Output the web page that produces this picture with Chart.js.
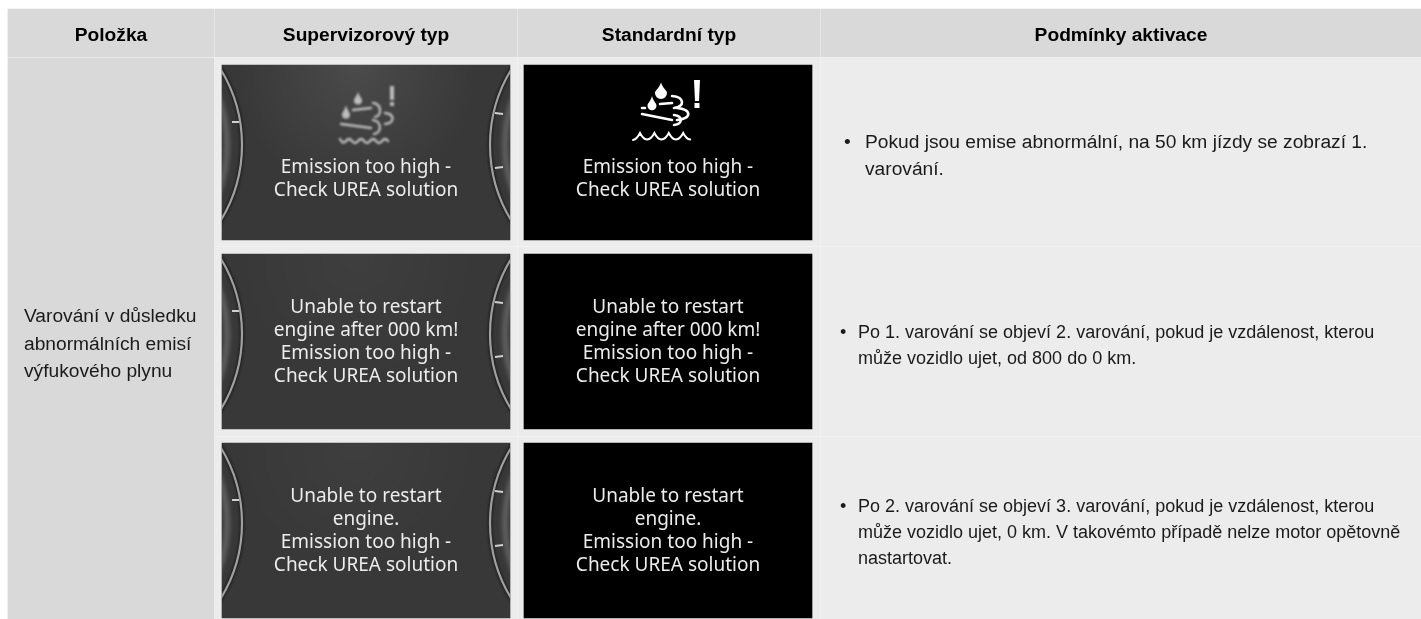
<!DOCTYPE html>
<html>
<head>
<meta charset="utf-8">
<title>Varování emisí</title>
<script src="https://cdn.jsdelivr.net/npm/chart.js@4"></script>
<style>
    html, body { margin: 0; padding: 0; background: #fff; }
    #wrap { position: relative; width: 1421px; height: 619px; overflow: hidden; }
    canvas { display: block; }
</style>
</head>
<body>
<div id="wrap"><canvas id="table" width="1421" height="619"></canvas></div>
<script>
// Table content
const headers = ['Položka', 'Supervizorový typ', 'Standardní typ', 'Podmínky aktivace'];
const itemLines = ['Varování v důsledku', 'abnormálních emisí', 'výfukového plynu'];
const screenLines = [
    ['Emission too high -', 'Check UREA solution'],
    ['Unable to restart', 'engine after 000 km!', 'Emission too high -', 'Check UREA solution'],
    ['Unable to restart', 'engine.', 'Emission too high -', 'Check UREA solution']
];
const conditionLines = [
    ['Pokud jsou emise abnormální, na 50 km jízdy se zobrazí 1.', 'varování.'],
    ['Po 1. varování se objeví 2. varování, pokud je vzdálenost, kterou', 'může vozidlo ujet, od 800 do 0 km.'],
    ['Po 2. varování se objeví 3. varování, pokud je vzdálenost, kterou', 'může vozidlo ujet, 0 km. V takovémto případě nelze motor opětovně', 'nastartovat.']
];

// Cell extents, in the units of the two axes
const columnEdges = [[8, 214], [215, 517], [518, 820], [821, 1421]];
const headerEdge = [9, 57];
const rowEdges = [[58, 246], [247, 436], [437, 619]];
const screenXs = [[222, 510], [524, 812]];
const screenYs = [[65, 240], [254, 429], [443, 618]];

const middle = (pair) => (pair[0] + pair[1]) / 2;
const span = (pair) => pair[1] - pair[0];

function cellBar(label, xPair, yPair, color) {
    return {
        label: label,
        data: [{ x: xPair, y: middle(yPair) }],
        backgroundColor: color,
        barThickness: span(yPair),
        grouped: false,
        borderWidth: 0
    };
}

function buildDatasets() {
    const sets = [];
    // separators show through between the cells
    sets.push(cellBar('sheet', [8, 1421], [9, 619], '#f7f7f7'));
    columnEdges.forEach((col, i) => {
        sets.push(cellBar(headers[i], col, headerEdge, '#d9d9d9'));
    });
    sets.push(cellBar('item', columnEdges[0], [rowEdges[0][0], rowEdges[2][1]], '#d9d9d9'));
    rowEdges.forEach((row, r) => {
        for (let c = 1; c < columnEdges.length; c++) {
            sets.push(cellBar('cell' + r + c, columnEdges[c], row, '#ececec'));
        }
    });
    screenYs.forEach((row, r) => {
        sets.push(cellBar('super' + r, screenXs[0], row, '#383838'));
        sets.push(cellBar('std' + r, screenXs[1], row, '#000000'));
    });
    // first dataset is painted last, so the screens go to the front
    return sets.reverse();
}

// Instrument cluster arcs on the supervision screens
function drawGauges(ctx, left, top, right, bottom, glowAlpha) {
    ctx.save();
    ctx.beginPath();
    ctx.rect(left, top, right - left, bottom - top);
    ctx.clip();

    const glow = ctx.createRadialGradient(left + 135, top, 5, left + 135, top + 10, 120);
    glow.addColorStop(0, 'rgba(255,255,255,' + glowAlpha + ')');
    glow.addColorStop(1, 'rgba(255,255,255,0)');
    ctx.fillStyle = glow;
    ctx.fillRect(left, top, right - left, bottom - top);

    const cy = top + 80;
    const lx = left - 125;
    const rx = right + 125;
    ctx.lineCap = 'butt';

    [[lx, 0], [rx, Math.PI]].forEach(([cx, rot]) => {
        ctx.filter = 'blur(2px)';
        ctx.strokeStyle = 'rgba(190,190,190,0.30)';
        ctx.lineWidth = 6;
        ctx.beginPath();
        ctx.arc(cx, cy, 130, rot - 0.5, rot + 0.5);
        ctx.stroke();
        ctx.filter = 'blur(1px)';
        ctx.strokeStyle = 'rgba(20,20,20,0.6)';
        ctx.lineWidth = 5;
        ctx.beginPath();
        ctx.arc(cx, cy, 145, rot - 0.6, rot + 0.6);
        ctx.stroke();
        ctx.filter = 'blur(0.7px)';
        ctx.strokeStyle = '#a0a0a0';
        ctx.lineWidth = 2.2;
        ctx.beginPath();
        ctx.arc(cx, cy, 145, rot - 0.55, rot + 0.55);
        ctx.stroke();
    });

    ctx.filter = 'blur(0.6px)';
    ctx.strokeStyle = '#d0d0d0';
    ctx.lineWidth = 2;
    ctx.beginPath();
    ctx.moveTo(left + 10, top + 57);
    ctx.lineTo(left + 17, top + 57);
    ctx.moveTo(right - 15, top + 48);
    ctx.lineTo(right - 7, top + 49);
    ctx.moveTo(right - 15, top + 103);
    ctx.lineTo(right - 7, top + 102);
    ctx.stroke();
    ctx.restore();
}

function drop(ctx, x, y, w, h) {
    ctx.beginPath();
    ctx.moveTo(x, y - h / 2);
    ctx.bezierCurveTo(x + w * 0.15, y - h * 0.1, x + w / 2, y, x + w / 2, y + h * 0.2);
    ctx.arc(x, y + h * 0.2, w / 2, 0, Math.PI);
    ctx.bezierCurveTo(x - w / 2, y, x - w * 0.15, y - h * 0.1, x, y - h / 2);
    ctx.fill();
}

function curl(ctx, x0, y0, bulge, x2, y2) {
    ctx.beginPath();
    ctx.moveTo(x0, y0);
    ctx.bezierCurveTo(bulge, y0 + 1, bulge, y2 - 1, x2, y2);
    ctx.stroke();
}

function drawSoftIcon(ctx, ox, oy) {
    // ox, oy = screen left/top
    ctx.save();
    ctx.translate(ox, oy);
    ctx.filter = 'blur(0.9px)';
    ctx.strokeStyle = '#bdbdbd';
    ctx.fillStyle = '#bdbdbd';
    ctx.lineWidth = 2.4;
    ctx.lineCap = 'round';
    drop(ctx, 136, 33, 8, 13);
    drop(ctx, 124, 47, 8, 14);
    ctx.beginPath();
    ctx.moveTo(131, 45); ctx.lineTo(149, 43);
    ctx.moveTo(119, 59); ctx.lineTo(149, 63);
    ctx.stroke();
    curl(ctx, 151, 38, 160, 153, 52);
    curl(ctx, 163, 48, 173, 163, 59);
    curl(ctx, 151, 55, 160, 152, 69);
    // waves
    ctx.beginPath();
    ctx.moveTo(118, 74);
    for (let i = 0; i < 4; i++) {
        ctx.quadraticCurveTo(121 + i * 12, 80, 124 + i * 12, 76);
        ctx.quadraticCurveTo(127 + i * 12, 72, 130 + i * 12, 76);
    }
    ctx.stroke();
    ctx.lineWidth = 4;
    ctx.lineCap = 'butt';
    ctx.beginPath();
    ctx.moveTo(170, 21); ctx.lineTo(170, 35);
    ctx.moveTo(170, 37); ctx.lineTo(170, 41);
    ctx.stroke();
    ctx.restore();
}

function drawSharpIcon(ctx, ox, oy) {
    ctx.save();
    ctx.translate(ox, oy);
    ctx.filter = 'blur(0.4px)';
    ctx.strokeStyle = '#fff';
    ctx.fillStyle = '#fff';
    ctx.lineWidth = 2.6;
    ctx.lineCap = 'round';
    drop(ctx, 137, 25, 12, 15);
    drop(ctx, 128, 38, 9, 14);
    ctx.beginPath();
    ctx.moveTo(136, 39); ctx.lineTo(148, 38);
    ctx.moveTo(118, 43); ctx.lineTo(121, 43);
    ctx.moveTo(118, 49); ctx.lineTo(148, 55);
    ctx.stroke();
    curl(ctx, 148, 31, 161, 150, 43);
    curl(ctx, 153, 43, 168, 153, 55);
    curl(ctx, 150, 50, 159, 150, 60);
    // scalloped water line
    ctx.lineWidth = 2;
    ctx.beginPath();
    ctx.moveTo(109, 75);
    for (let i = 0; i < 4; i++) {
        ctx.quadraticCurveTo(113 + i * 14.4, 74, 116 + i * 14.4, 68);
        ctx.quadraticCurveTo(119 + i * 14.4, 74, 123 + i * 14.4, 74.5);
    }
    ctx.stroke();
    ctx.beginPath();
    ctx.moveTo(170, 15); ctx.lineTo(176, 15); ctx.lineTo(175, 36); ctx.lineTo(171, 36);
    ctx.fill();
    ctx.fillRect(170.5, 38, 5, 5);
    ctx.restore();
}

const textPlugin = {
    id: 'tableText',
    afterDatasetsDraw(chart) {
        const ctx = chart.ctx;
        const x = chart.scales.x;
        const y = chart.scales.y;

        // Screen artwork
        screenYs.forEach((row, r) => {
            drawGauges(ctx, x.getPixelForValue(screenXs[0][0]), y.getPixelForValue(row[0]),
                x.getPixelForValue(screenXs[0][1]), y.getPixelForValue(row[1]), r === 0 ? 0.09 : 0.03);
        });
        drawSoftIcon(ctx, x.getPixelForValue(screenXs[0][0]), y.getPixelForValue(screenYs[0][0]));
        drawSharpIcon(ctx, x.getPixelForValue(screenXs[1][0]), y.getPixelForValue(screenYs[0][0]));

        ctx.save();
        ctx.textBaseline = 'alphabetic';

        // Header
        ctx.fillStyle = '#000';
        ctx.font = 'bold 19.2px "Liberation Sans", Arial, sans-serif';
        ctx.textAlign = 'center';
        headers.forEach((h, i) => {
            ctx.fillText(h, x.getPixelForValue(middle(columnEdges[i])), y.getPixelForValue(41));
        });

        // First column
        ctx.textAlign = 'left';
        ctx.fillStyle = '#1a1a1a';
        ctx.font = '19.2px "Liberation Sans", Arial, sans-serif';
        itemLines.forEach((t, i) => {
            ctx.fillText(t, x.getPixelForValue(24), y.getPixelForValue(322 + i * 27.5));
        });

        // Screen texts
        ctx.textAlign = 'center';
        ctx.fillStyle = '#ececec';
        ctx.font = '19px "Noto Sans", sans-serif';
        const baseLines = [173, 313, 502];
        screenLines.forEach((lines, r) => {
            lines.forEach((t, i) => {
                screenXs.forEach((sx) => {
                    ctx.fillText(t, x.getPixelForValue(middle(sx)), y.getPixelForValue(baseLines[r] + i * 23));
                });
            });
        });

        // Conditions
        ctx.textAlign = 'left';
        ctx.fillStyle = '#1a1a1a';
        const condFonts = [19.2, 18, 18];
        const condTop = [148, 338, 512];
        const condStep = [27, 26, 26];
        const bulletX = [844, 840, 840];
        const textX = [865, 858, 858];
        conditionLines.forEach((lines, r) => {
            ctx.font = condFonts[r] + 'px "Liberation Sans", Arial, sans-serif';
            ctx.fillText('•', x.getPixelForValue(bulletX[r]), y.getPixelForValue(condTop[r]));
            lines.forEach((t, i) => {
                ctx.fillText(t, x.getPixelForValue(textX[r]), y.getPixelForValue(condTop[r] + i * condStep[r]));
            });
        });
        ctx.restore();
    }
};

new Chart(document.getElementById('table').getContext('2d'), {
    type: 'bar',
    data: { datasets: buildDatasets() },
    plugins: [textPlugin],
    options: {
        indexAxis: 'y',
        responsive: false,
        animation: false,
        layout: { padding: 0 },
        plugins: { legend: { display: false }, tooltip: { enabled: false } },
        scales: {
            x: { type: 'linear', min: 0, max: 1421, display: false },
            y: { type: 'linear', min: 0, max: 619, reverse: true, offset: false, display: false }
        }
    }
});
</script>
</body>
</html>
